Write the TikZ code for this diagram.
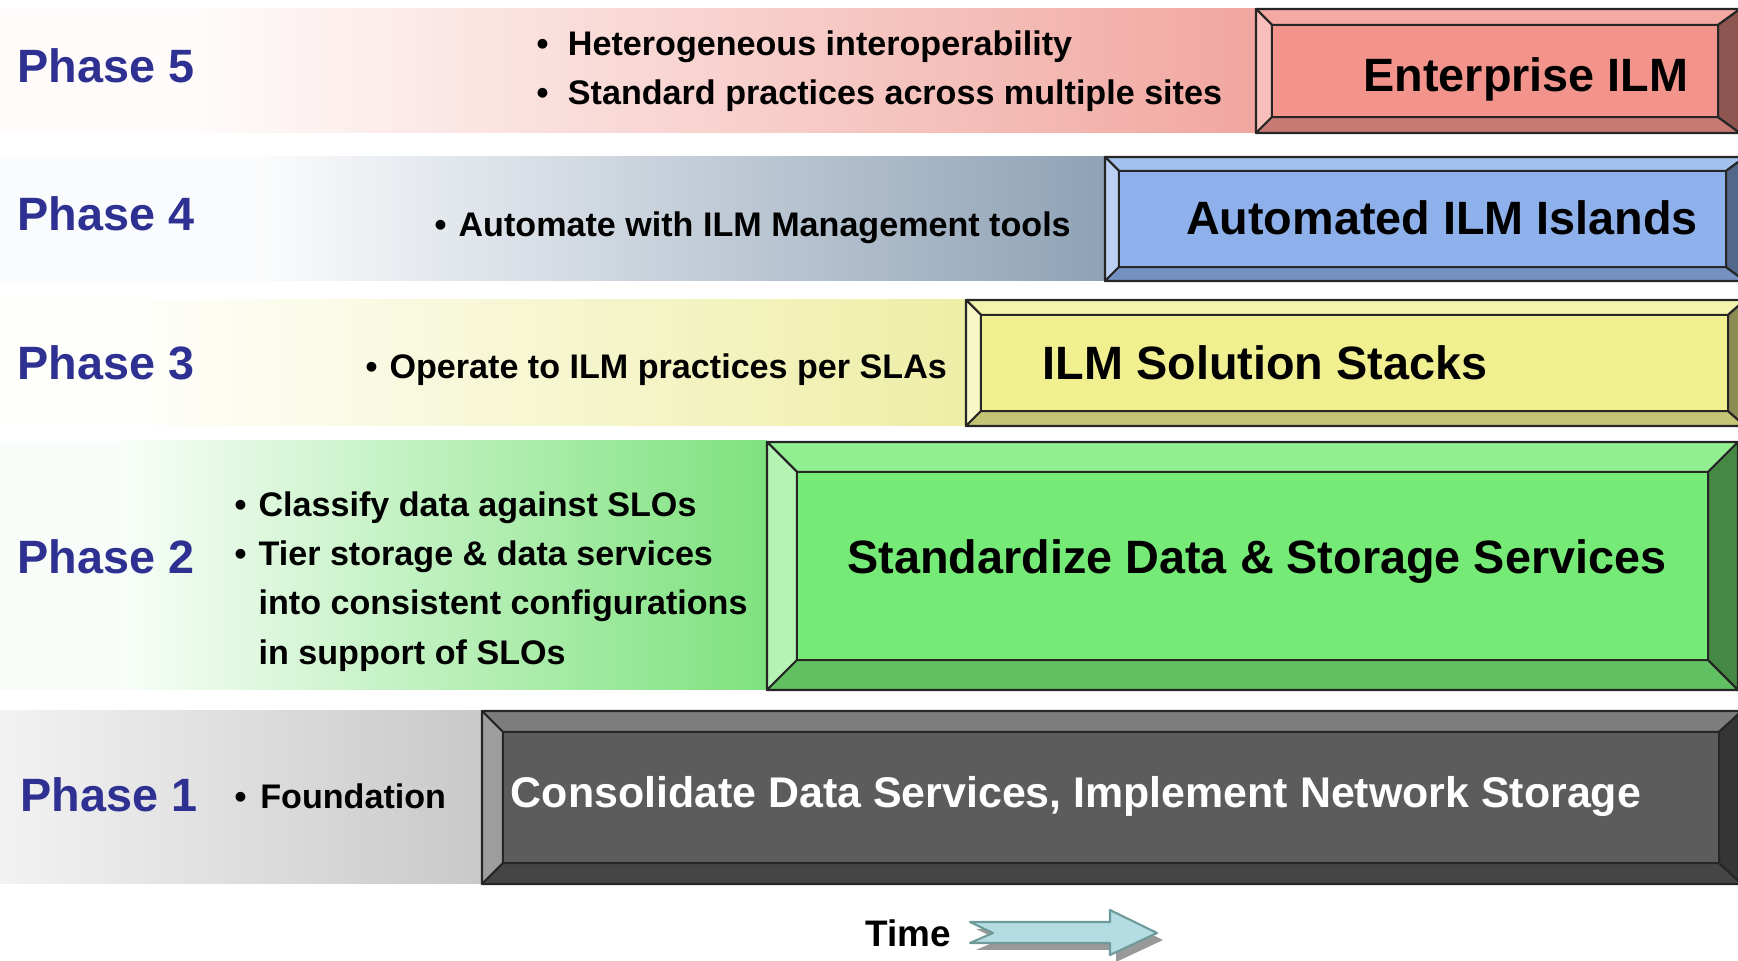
\documentclass[tikz,border=0pt]{standalone}
\usepackage{fontspec}
\setmainfont{Liberation Sans}

\definecolor{phaseblue}{HTML}{2E3192}
\definecolor{redface}{HTML}{F3948C}
\definecolor{blueface}{HTML}{8FB1EB}
\definecolor{yellowface}{HTML}{F0F090}
\definecolor{greenface}{HTML}{76EA76}
\definecolor{greyface}{HTML}{5C5C5C}
\definecolor{redband}{HTML}{F1A7A0}
\definecolor{blueband}{HTML}{8FA2B6}
\definecolor{yellowband}{HTML}{EEEEA6}
\definecolor{greenband}{HTML}{7EE27E}
\definecolor{greyband}{HTML}{C9C9C9}
\definecolor{arrowfill}{HTML}{B4DDE3}
\definecolor{arrowedge}{HTML}{6F9A9A}

\begin{document}
\begin{tikzpicture}[x=0.01cm,y=-0.01cm,
  phaselabel/.style={anchor=west,inner sep=0pt,text height=9.5pt,text depth=0pt,
    text=phaseblue,font=\fontsize{13.3}{16}\selectfont\bfseries},
  boxtitle/.style={inner sep=0pt,text height=9.5pt,text depth=0pt,
    font=\fontsize{13.3}{16}\selectfont\bfseries},
  bullets/.style={anchor=north west,inner sep=0pt,align=left,
    font=\fontsize{9.7}{14}\selectfont\bfseries},
  bevel/.style={draw=black!85,line width=0.6pt,line join=round}]
\useasboundingbox (0,0) rectangle (1738,961);
\clip (0,0) rectangle (1738,961);

% Bands
\fill[redband!5!white] (0,9) rectangle (200,133);
\shade[left color=redband!5!white,middle color=redband!40!white,right color=redband] (200,9) rectangle (1256,133);
\fill[blueband!4!white] (0,157) rectangle (260,281);
\shade[left color=blueband!4!white,middle color=blueband!30!white,right color=blueband] (260,157) rectangle (1105,281);
\fill[yellowband!6!white] (0,300) rectangle (150,426);
\shade[left color=yellowband!6!white,middle color=yellowband!50!white,right color=yellowband] (150,300) rectangle (966,426);
\fill[greenband!5!white] (0,441) rectangle (120,690);
\shade[left color=greenband!5!white,middle color=greenband!35!white,right color=greenband] (120,441) rectangle (767,690);
\shade[left color=black!5,middle color=black!9,right color=greyband] (0,711) rectangle (482,884);

% Phase 5 box
\filldraw[bevel,fill=redface!80!white] (1256,9) -- (1740,9) -- (1718,25) -- (1272,25) -- cycle;
\filldraw[bevel,fill=redface!60!white] (1256,9) -- (1272,25) -- (1272,117) -- (1256,133) -- cycle;
\filldraw[bevel,fill=redface!82!black] (1256,133) -- (1272,117) -- (1718,117) -- (1740,133) -- cycle;
\filldraw[bevel,fill=redface!58!black] (1740,9) -- (1718,25) -- (1718,117) -- (1740,133) -- cycle;
\filldraw[bevel,fill=redface] (1272,25) rectangle (1718,117);

% Phase 4 box
\filldraw[bevel,fill=blueface!80!white] (1105,157) -- (1745,157) -- (1726,171) -- (1119,171) -- cycle;
\filldraw[bevel,fill=blueface!60!white] (1105,157) -- (1119,171) -- (1119,267) -- (1105,281) -- cycle;
\filldraw[bevel,fill=blueface!82!black] (1105,281) -- (1119,267) -- (1726,267) -- (1745,281) -- cycle;
\filldraw[bevel,fill=blueface!58!black] (1745,157) -- (1726,171) -- (1726,267) -- (1745,281) -- cycle;
\filldraw[bevel,fill=blueface] (1119,171) rectangle (1726,267);

% Phase 3 box
\filldraw[bevel,fill=yellowface!75!white] (966,300) -- (1745,300) -- (1728,315) -- (981,315) -- cycle;
\filldraw[bevel,fill=yellowface!50!white] (966,300) -- (981,315) -- (981,411) -- (966,426) -- cycle;
\filldraw[bevel,fill=yellowface!82!black] (966,426) -- (981,411) -- (1728,411) -- (1745,426) -- cycle;
\filldraw[bevel,fill=yellowface!58!black] (1745,300) -- (1728,315) -- (1728,411) -- (1745,426) -- cycle;
\filldraw[bevel,fill=yellowface] (981,315) rectangle (1728,411);

% Phase 2 box
\filldraw[bevel,fill=greenface!80!white] (767,442) -- (1738,442) -- (1708,472) -- (797,472) -- cycle;
\filldraw[bevel,fill=greenface!55!white] (767,442) -- (797,472) -- (797,660) -- (767,690) -- cycle;
\filldraw[bevel,fill=greenface!82!black] (767,690) -- (797,660) -- (1708,660) -- (1738,690) -- cycle;
\filldraw[bevel,fill=greenface!58!black] (1738,442) -- (1708,472) -- (1708,660) -- (1738,690) -- cycle;
\filldraw[bevel,fill=greenface] (797,472) rectangle (1708,660);

% Phase 1 box
\filldraw[bevel,fill=greyface!80!white] (482,711) -- (1742,711) -- (1719,732) -- (503,732) -- cycle;
\filldraw[bevel,fill=greyface!60!white] (482,711) -- (503,732) -- (503,863) -- (482,884) -- cycle;
\filldraw[bevel,fill=greyface!75!black] (482,884) -- (503,863) -- (1719,863) -- (1742,884) -- cycle;
\filldraw[bevel,fill=greyface!58!black] (1742,711) -- (1719,732) -- (1719,863) -- (1742,884) -- cycle;
\filldraw[bevel,fill=greyface] (503,732) rectangle (1719,863);

% Phase labels
\node[phaselabel] (ph5) at (17,66) {Phase 5};
\node[phaselabel] (ph4) at (17,214) {Phase 4};
\node[phaselabel] (ph3) at (17,363) {Phase 3};
\node[phaselabel] (ph2) at (17,557) {Phase 2};
\node[phaselabel] (ph1) at (20,795) {Phase 1};

% Bullet texts
\node[bullets] (txt5) at (536,30) {•\hspace{5.5pt}Heterogeneous interoperability\\
  •\hspace{5.5pt}Standard practices across multiple sites};
\node[bullets] (txt4) at (434,211) {•\hspace{3.4pt}Automate with ILM Management tools};
\node[bullets] (txt3) at (365,353) {•\hspace{3.4pt}Operate to ILM practices per SLAs};
\node[bullets] (txt2) at (234,491) {•\hspace{3.4pt}Classify data against SLOs\\
  •\hspace{3.4pt}Tier storage \& data services\\
  \phantom{•}\hspace{3.4pt}into consistent configurations\\
  \phantom{•}\hspace{3.4pt}in support of SLOs};
\node[bullets] (txt1) at (234,783) {•\hspace{3.9pt}Foundation};

% Box titles
\node[boxtitle] (enterprise) at (1526,75) {Enterprise ILM};
\node[boxtitle] (islands) at (1442,218) {Automated ILM Islands};
\node[boxtitle] (stacks) at (1265,363) {ILM Solution Stacks};
\node[boxtitle] (standardize) at (1257,557) {Standardize Data \& Storage Services};
\node[boxtitle,text=white,text height=8.7pt,font=\fontsize{12.2}{15}\selectfont\bfseries]
  (consolidate) at (1076,792) {Consolidate Data Services, Implement Network Storage};

% Time arrow
\node[inner sep=0pt,text height=7.6pt,text depth=0pt,font=\fontsize{10.5}{13}\selectfont\bfseries]
  (time) at (908,933) {Time};
\fill[black!40] (976,929) -- (1116,929) -- (1116,917) -- (1163,940) -- (1116,962) -- (1116,950)
  -- (976,950) -- (999,940) -- cycle;
\filldraw[fill=arrowfill,draw=arrowedge,line width=0.6pt,line join=round] (970,922) -- (1110,922)
  -- (1110,910) -- (1157,933) -- (1110,955) -- (1110,943) -- (970,943) -- (993,933) -- cycle;

\end{tikzpicture}
\end{document}
